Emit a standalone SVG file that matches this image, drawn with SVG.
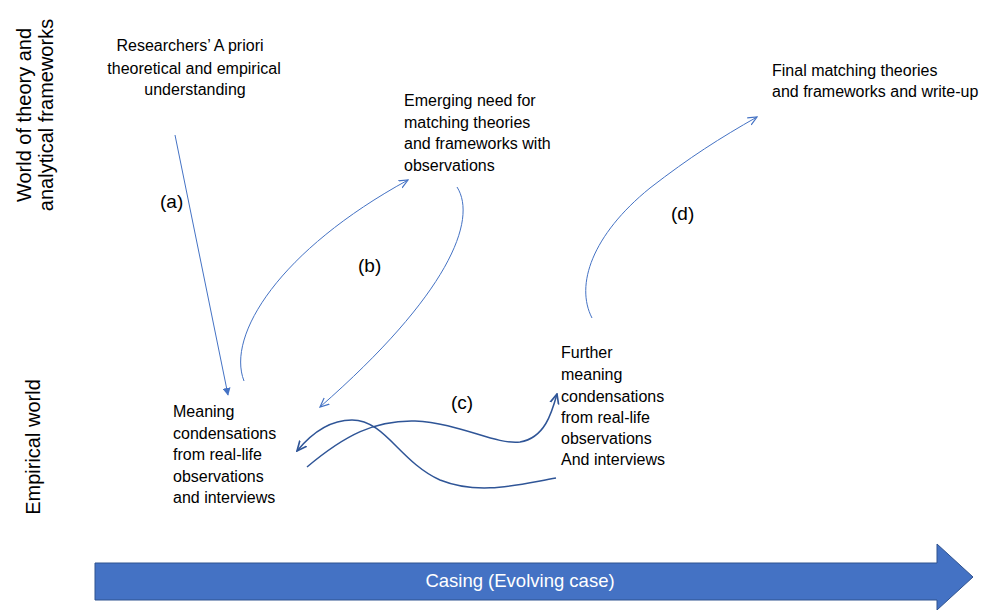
<svg xmlns="http://www.w3.org/2000/svg" width="984" height="610" viewBox="0 0 984 610">
<style>
.t{font-family:"Liberation Sans",Arial,sans-serif;font-size:16px;fill:#000}
.lab{font-family:"Liberation Sans",Arial,sans-serif;font-size:19px;fill:#000}
.side{font-family:"Liberation Sans",Arial,sans-serif;font-size:20px;fill:#000}
.c1{fill:none;stroke:#4472C4;stroke-width:1}
.c2{fill:none;stroke:#2F5597;stroke-width:1.5}
</style>
<defs>
<marker id="tri" viewBox="0 0 10 10" refX="9" refY="5" markerWidth="8" markerHeight="8" markerUnits="userSpaceOnUse" orient="auto"><path d="M0,0 L10,5 L0,10 z" fill="#4472C4"/></marker>
<marker id="open" viewBox="0 0 10 10" refX="9" refY="5" markerWidth="10" markerHeight="10" markerUnits="userSpaceOnUse" orient="auto"><path d="M0,1 L9,5 L0,9" fill="none" stroke="#4472C4" stroke-width="1.2"/></marker>
<marker id="open2" viewBox="0 0 10 10" refX="9" refY="5" markerWidth="11" markerHeight="11" markerUnits="userSpaceOnUse" orient="auto"><path d="M0,1 L9,5 L0,9" fill="none" stroke="#2F5597" stroke-width="1.5"/></marker>
</defs>
<rect width="984" height="610" fill="#fff"/>

<g id="axis-theory">
<text class="side" transform="translate(31,115) rotate(-90)" text-anchor="middle">World of theory and</text>
<text class="side" transform="translate(53,115) rotate(-90)" text-anchor="middle">analytical frameworks</text>
</g>
<g id="axis-empirical">
<text class="side" transform="translate(40,447) rotate(-90)" text-anchor="middle">Empirical world</text>
</g>

<g id="node-researchers">
<text class="t" text-anchor="middle"><tspan x="190" y="51">Researchers’ A priori</tspan><tspan x="194" y="74">theoretical and empirical</tspan><tspan x="195" y="95">understanding</tspan></text>
</g>
<g id="node-emerging">
<text class="t"><tspan x="404" y="106">Emerging need for</tspan><tspan x="404" y="128">matching theories</tspan><tspan x="404" y="149">and frameworks with</tspan><tspan x="404" y="171">observations</tspan></text>
</g>
<g id="node-final">
<text class="t"><tspan x="772" y="76">Final matching theories</tspan><tspan x="772" y="97">and frameworks and write-up</tspan></text>
</g>
<g id="node-meaning">
<text class="t"><tspan x="173" y="417">Meaning</tspan><tspan x="173" y="439">condensations</tspan><tspan x="173" y="460">from real-life</tspan><tspan x="173" y="482">observations</tspan><tspan x="173" y="503">and interviews</tspan></text>
</g>
<g id="node-further">
<text class="t"><tspan x="561" y="358">Further</tspan><tspan x="561" y="380">meaning</tspan><tspan x="561" y="402">condensations</tspan><tspan x="561" y="423">from real-life</tspan><tspan x="561" y="444">observations</tspan><tspan x="561" y="465">And interviews</tspan></text>
</g>

<g id="connectors">
<path class="c1" d="M175,135 L228,395" marker-end="url(#tri)"/>
<path class="c1" d="M244,381 C226,335 280,250 408,180" marker-end="url(#open)"/>
<path class="c1" d="M457,187 C478,220 448,295 320,407" marker-end="url(#open)"/>
<path class="c2" d="M307,467 C345,435 375,420 415,421 C460,423 495,445 520,442 C545,438 552,412 557,394" marker-end="url(#open2)"/>
<path class="c2" d="M556,478 C520,484 480,496 440,480 C400,462 385,420 352,420 C325,420 306,440 297,451" marker-end="url(#open2)"/>
<path class="c1" d="M592,318 C575,285 592,235 650,188 C690,157 720,138 757,117" marker-end="url(#open)"/>
<text class="lab" x="160" y="208">(a)</text>
<text class="lab" x="358" y="272">(b)</text>
<text class="lab" x="451" y="409">(c)</text>
<text class="lab" x="671" y="220">(d)</text>
</g>

<g id="casing-arrow">
<path d="M95,563 L937,563 L937,544 L973,577 L937,610 L937,600 L95,600 z" fill="#4472C4" stroke="#2F528F" stroke-width="1"/>
<text x="520" y="587" text-anchor="middle" font-family="Liberation Sans, Arial, sans-serif" font-size="18.5" fill="#fff">Casing (Evolving case)</text>
</g>
</svg>
